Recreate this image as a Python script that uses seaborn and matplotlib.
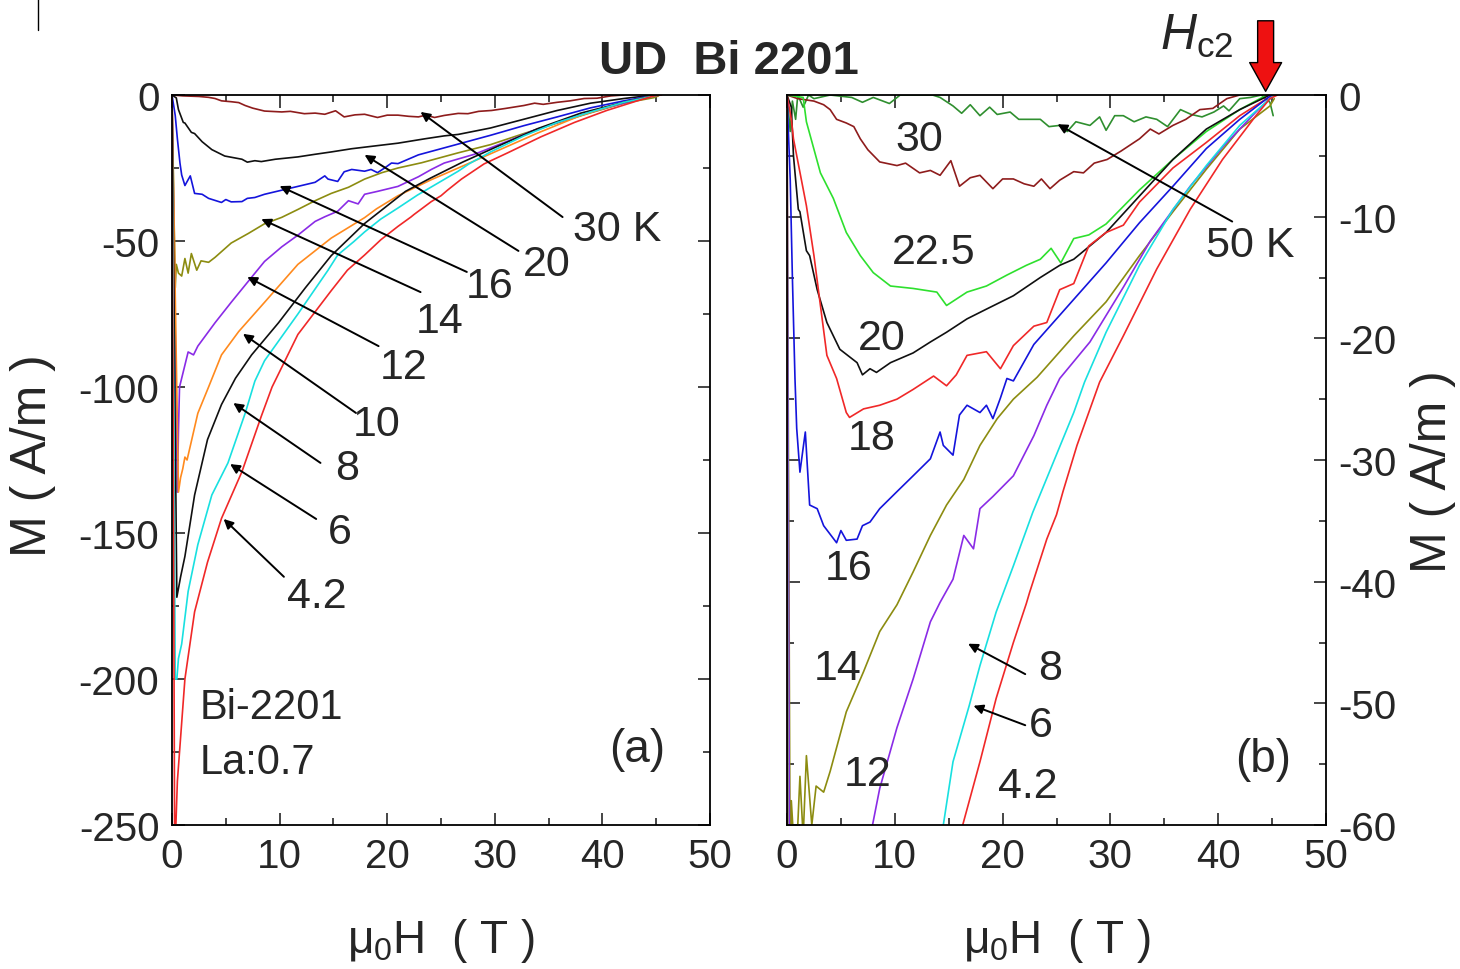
import matplotlib
matplotlib.use("Agg")
import matplotlib.pyplot as plt
from matplotlib.lines import Line2D
from matplotlib.ticker import MultipleLocator
import pandas as pd
import seaborn as sns

# ---------------- data ----------------
H_42 = [0, 0.25, 0.5, 0.8, 1.2, 2.1, 3.3, 4.6, 6.5, 8.3, 9.3, 11.7, 14.8, 16.3, 17.9, 19.4, 21.0, 22.2,
        22.5, 24.1, 25.0, 25.6, 26.9, 29.0, 31.2, 34.3, 37.4, 40.4, 43.5, 44.8, 45.5]
M_42 = [0, -262, -235, -220, -200, -177, -160, -145, -129, -110, -100, -82, -67, -60, -54.8, -49.6, -45.0, -41.8,
        -40.9, -36.5, -34.5, -32.6, -28.8, -23.6, -19.8, -14.3, -9.4, -5.3, -1.7, -0.3, 0]

H_6 = [0, 0.3, 0.45, 0.6, 0.9, 1.5, 2.4, 3.7, 5.2, 6.8, 7.7, 8.6, 11.7, 14.5, 15.4, 16.9, 17.9, 19.4, 21.0,
       22.8, 24.7, 26.6, 27.6, 29.6, 32.7, 35.8, 38.9, 42.0, 44.8, 45.3]
M_6 = [0, -200, -200, -193, -188, -170, -154, -137, -126, -109, -98, -91, -75, -60, -54.8, -50.2, -46.9, -42.5, -38.7,
       -34.3, -30.2, -26.1, -23.6, -19.5, -14.0, -9.4, -5.8, -2.5, -0.3, 0]

H_8 = [0, 0.45, 0.8, 1.2, 2.1, 3.3, 4.6, 5.9, 7.4, 9.9, 12.4, 14.8, 17.9, 21.7, 24.0, 27.0, 30.0, 34.0, 38.0, 42.0, 45.0]
M_8 = [0, -172, -165, -158, -137, -118, -106, -97, -89, -78, -66, -55, -44, -33, -28.5, -23, -18, -11.5, -6.2, -2.5, 0]

H_10 = [0, 0.6, 0.8, 1.0, 1.2, 1.4, 2.4, 3.4, 4.6, 6.2, 8.6, 11.7, 14.8, 17.9, 19.0, 21.0, 24.1, 26.6, 30.0,
        34.0, 38.0, 42.0, 45.0]
M_10 = [0, -136, -131, -128, -124, -125, -109, -100, -89, -81, -71, -58, -49, -42, -39, -34.5, -29, -25, -19.5,
        -13, -7, -2.5, 0]

H_12 = [0, 0.5, 0.6, 0.7, 1.5, 2.0, 2.4, 4.0, 5.5, 7.4, 8.6, 10.2, 11.7, 13.3, 14.2, 15.4, 16.4, 17.3, 17.9,
        19.1, 21.0, 22.9, 24.1, 25.3, 28.1, 31.2, 33.7, 37.4, 40.5, 43.5, 44.8, 45.2]
M_12 = [0, -136, -115, -100, -88, -89, -86, -78, -71, -62.4, -57, -52, -48, -43.3, -41.7, -39.8, -36.2, -37.3, -34,
        -33, -31.3, -28, -25.5, -23.3, -20.3, -15.8, -12, -7.5, -4.2, -1.4, -0.3, 0]

H_14 = [0, 0.3, 0.4, 0.6, 0.9, 1.2, 1.5, 1.8, 2.3, 2.7, 3.4, 4.0, 5.5, 7.1, 8.6, 10.2, 11.7, 13.3, 14.8, 16.4,
        17.9, 19.5, 21.0, 23.2, 26.6, 29.6, 32.7, 35.8, 38.9, 42.0, 44.8, 45.2]
M_14 = [0, -66, -58, -61, -62, -56, -61, -54.3, -60, -56.8, -57.3, -55.6, -50.7, -47.4, -44.1, -41.9, -39.2, -36.2,
        -33.7, -31.6, -28.8, -26.6, -25, -23.2, -19.8, -17, -13.2, -9.6, -6.1, -2.8, -0.9, -0.3]

H_16 = [0, 0.3, 0.5, 0.74, 0.9, 1.2, 1.5, 1.7, 2.1, 2.8, 3.4, 4.6, 5.0, 5.5, 6.5, 7.0, 7.7, 8.6, 10.2, 11.7,
        13.3, 14.2, 14.5, 15.4, 16.0, 16.7, 17.9, 18.5, 19.1, 19.8, 20.4, 21.0, 22.9, 24.7, 26.6, 29.6, 32.7,
        35.8, 38.9, 42.0, 44.8, 45.0]
M_16 = [0, -7, -15, -23.3, -27.4, -31, -29, -27.7, -33.7, -34, -35.4, -36.8, -35.8, -36.6, -36.5, -35.4, -35.1,
        -34, -32.6, -31.3, -29.9, -27.7, -28.8, -29.6, -26.3, -25.5, -26.1, -25.5, -26.6, -24.9, -23.3, -23.5,
        -20.5, -18.7, -16.8, -13.8, -10.5, -7.5, -4.4, -2.0, -0.1, 0]

H_18 = [0, 0.4, 0.6, 1.8, 2.5, 3.1, 3.7, 4.6, 5.5, 5.8, 7.1, 8.6, 10.2, 11.7, 13.6, 14.8, 15.7, 16.7, 18.5,
        19.8, 21.0, 22.9, 24.1, 25.3, 26.6, 28.0, 29.6, 31.2, 32.7, 35.8, 38.9, 42.0, 44.5, 45.0]
M_18 = [0, -2, -3.6, -9.1, -13.2, -17.3, -21.4, -23.3, -26.1, -26.5, -25.8, -25.5, -25, -24.2, -23.1, -23.9, -23,
        -21.4, -21.1, -22.5, -20.6, -19, -18.7, -16, -15.5, -12.4, -11.3, -10.7, -8.8, -6, -3.9, -1.7, -0.3, 0]

H_20 = [0, 0.4, 0.6, 1.05, 1.2, 1.8, 2.1, 2.8, 3.7, 4.9, 6.5, 7.0, 7.7, 8.3, 9.6, 11.7, 13.3, 14.8, 16.7, 18.5,
        21.0, 23.5, 25.3, 26.6, 29.6, 32.7, 35.8, 38.9, 42.0, 44.8]
M_20 = [0, -1, -5, -9.4, -9.6, -12.8, -13.2, -16, -18.7, -20.9, -22, -23, -22.5, -22.8, -22, -21.2, -20.3, -19.5,
        -18.4, -17.6, -16.5, -15, -14, -13.5, -11.3, -8.3, -5.3, -2.8, -1.2, 0]

H_225 = [0, 1.5, 1.8, 3.1, 4.3, 5.5, 6.8, 8.0, 9.6, 11.7, 13.9, 14.8, 16.7, 18.5, 20.4, 22.2, 23.5, 24.5, 25.4,
         26.6, 28.0, 29.6, 32.7, 35.8, 38.9, 42.0, 44.5]
M_225 = [0, -0.2, -2.2, -6.4, -8.5, -11.3, -13.2, -14.6, -15.7, -15.9, -16.2, -17.3, -16.2, -15.7, -14.8, -14,
         -13.5, -12.6, -13.8, -11.8, -11.5, -10.6, -7.8, -5.3, -3.0, -1.2, 0]

H_30 = [0, 1.0, 2.5, 3.4, 4.0, 4.6, 5.5, 6.2, 6.8, 7.5, 8.6, 10.2, 11.0, 12.3, 13.3, 14.2, 15.2, 16.0, 17.0,
        17.9, 19.1, 20.0, 21.0, 22.0, 22.9, 23.6, 24.4, 25.3, 26.6, 27.5, 28.5, 29.7, 31.0, 32.7, 33.7, 34.5,
        35.8, 37.0, 38.3, 39.5, 40.8, 42.0]
M_30 = [0, -0.3, -0.5, -0.8, -1.2, -2.0, -2.3, -2.6, -3.6, -4.5, -5.5, -5.8, -5.6, -6.4, -6.2, -6.6, -5.4, -7.5,
        -6.8, -6.6, -7.7, -6.9, -6.9, -7.3, -7.5, -6.9, -7.7, -7.0, -6.3, -6.4, -5.6, -5.3, -4.6, -3.6, -2.8,
        -3.2, -2.5, -2.0, -1.2, -1.1, -0.3, 0]

H_50 = [0, 0.3, 0.5, 0.8, 1.0, 1.5, 2.0, 2.5, 4.0, 6.0, 7.0, 8.0, 9.5, 10.5, 13.5, 14.2, 15.4, 16.2, 17.0, 17.9,
        18.8, 19.5, 20.7, 21.5, 22.5, 23.5, 24.3, 25.3, 26.0, 26.8, 28.1, 29.0, 29.6, 30.4, 31.2, 32.2, 33.3,
        34.3, 35.3, 36.5, 37.5, 38.5, 39.6, 40.5, 41.0, 42.0, 43.0, 44.0, 44.8, 45.1]
M_50 = [0, -3.0, -0.5, -2.0, 0, -1.0, 0, -0.3, 0, -0.2, -0.6, -0.2, -0.7, 0, 0, -0.2, -0.9, -1.5, -0.8, -1.7,
        -1.0, -1.6, -1.4, -2.0, -2.0, -2.0, -2.6, -2.5, -3.0, -2.2, -2.5, -1.8, -2.9, -1.7, -1.7, -2.2, -1.8,
        -2.0, -2.6, -1.2, -1.6, -1.8, -1.4, -0.9, -1.3, -0.3, -0.2, 0, -0.6, -1.7]

LEFT_TEMPS = ["30", "20", "16", "14", "12", "10", "8", "6", "4.2"]
RIGHT_TEMPS = ["50", "30", "22.5", "20", "18", "16", "14", "12", "6", "4.2"]

COLORS = {"4.2": "#f02828", "6": "#18e0e0", "8": "#101010", "10": "#ff8a1e", "12": "#8a2be6",
          "14": "#8c8c10", "16": "#1414dc", "18": "#f02828", "20": "#101010", "22.5": "#2ee02e",
          "30": "#8e1c1c", "50": "#2f8f2f"}

SERIES = {"4.2": (H_42, M_42), "6": (H_6, M_6), "8": (H_8, M_8), "10": (H_10, M_10), "12": (H_12, M_12),
          "14": (H_14, M_14), "16": (H_16, M_16), "18": (H_18, M_18), "20": (H_20, M_20),
          "22.5": (H_225, M_225), "30": (H_30, M_30), "50": (H_50, M_50)}


def make_df(temps):
    frames = []
    for t in temps:
        h, m = SERIES[t]
        frames.append(pd.DataFrame({"H": h, "M": m, "T": t}))
    return pd.concat(frames, ignore_index=True)


# ---------------- style ----------------
sns.set_theme(style="ticks")
plt.rcParams["font.family"] = ["Liberation Sans", "DejaVu Sans"]
plt.rcParams["mathtext.fontset"] = "custom"
plt.rcParams["mathtext.rm"] = "Liberation Sans"
plt.rcParams["mathtext.it"] = "Liberation Sans:italic"
plt.rcParams["axes.linewidth"] = 1.3
plt.rcParams["axes.unicode_minus"] = False

fig = plt.figure(figsize=(14.6, 9.7), dpi=100)
axL = fig.add_axes([172 / 1460, 1 - 826 / 970, 538 / 1460, 730 / 970])
axR = fig.add_axes([787 / 1460, 1 - 826 / 970, 539 / 1460, 730 / 970])

for ax, temps in ((axL, LEFT_TEMPS), (axR, RIGHT_TEMPS)):
    d = make_df(temps)
    sns.lineplot(data=d, x="H", y="M", hue="T", hue_order=temps,
                 palette={t: COLORS[t] for t in temps}, units="T", estimator=None,
                 sort=False, legend=False, linewidth=1.2, ax=ax)
    ax.set_xlim(0, 50)
    ax.xaxis.set_major_locator(MultipleLocator(10))
    ax.xaxis.set_minor_locator(MultipleLocator(5))
    ax.tick_params(which="both", direction="in", top=True, right=True, left=True, bottom=True,
                   width=1.2, labelsize=29, pad=9)
    ax.tick_params(which="major", length=9)
    ax.tick_params(which="minor", length=5)
    ax.set_xlabel("μ$_\\mathregular{0}$H  ( T )", fontsize=33)
    ax.xaxis.set_label_coords(0.5, -0.125)
    ax.xaxis.label.set_va("top")
    for s in ax.spines.values():
        s.set_color("black")

axL.set_ylim(-250, 0)
axL.yaxis.set_major_locator(MultipleLocator(50))
axL.yaxis.set_minor_locator(MultipleLocator(25))
axL.set_ylabel("M ( A/m )", fontsize=36)
axL.yaxis.set_label_coords(-0.215, 0.508)

axR.set_ylim(-60, 0)
axR.yaxis.set_major_locator(MultipleLocator(10))
axR.yaxis.set_minor_locator(MultipleLocator(5))
axR.tick_params(which="both", labelleft=False, labelright=True)
axR.yaxis.set_label_position("right")
axR.set_ylabel("M ( A/m )", fontsize=36)
axR.yaxis.set_label_coords(1.155, 0.485)

# ---------------- annotations ----------------
ann_kw = dict(arrowprops=dict(arrowstyle="-|>", color="black", lw=1.4, mutation_scale=14,
                              shrinkA=0, shrinkB=0), annotation_clip=False)
fs = 31

left_labels = [  # text, text-centre, arrow tail, arrow tip
    ("30 K", (41.4, -45.9), (36.3, -41.8), (23.1, -5.8)),
    ("20", (34.8, -57.9), (32.2, -53.4), (17.9, -20.5)),
    ("16", (29.5, -65.4), (27.4, -60.6), (10.0, -31.2)),
    ("14", (24.9, -77.4), (23.1, -67.5), (8.3, -42.5)),
    ("12", (21.5, -93.2), (19.2, -86.0), (7.0, -62.3)),
    ("10", (19.0, -112.7), (17.1, -108.9), (6.6, -81.8)),
    ("8", (16.3, -127.7), (13.8, -126.0), (5.7, -105.5)),
    ("6", (15.6, -149.7), (13.4, -145.2), (5.4, -126.4)),
    ("4.2", (13.5, -171.6), (10.4, -165.0), (4.8, -145.2)),
]
for txt, tc, tail, tip in left_labels:
    axL.annotate("", xy=tip, xytext=tail, **ann_kw)
    axL.text(tc[0], tc[1], txt, fontsize=fs, ha="center", va="center")

axL.text(2.6, -209.6, "Bi-2201", fontsize=30, ha="left", va="center")
axL.text(2.6, -228.4, "La:0.7", fontsize=30, ha="left", va="center")
axL.text(43.2, -224.0, "(a)", fontsize=33, ha="center", va="center")

right_plain = [("30", (12.3, -3.6)), ("22.5", (13.6, -12.9)), ("20", (8.8, -20.0)), ("18", (7.9, -28.2)),
               ("16", (5.7, -38.9)), ("14", (4.7, -47.1)), ("12", (7.5, -55.8)), ("4.2", (22.3, -56.8))]
for txt, tc in right_plain:
    axR.text(tc[0], tc[1], txt, fontsize=fs, ha="center", va="center")

right_arrows = [("8", (24.4, -47.1), (22.1, -47.6), (16.8, -45.1)),
                ("6", (23.5, -51.8), (22.1, -51.8), (17.3, -50.2)),
                ("50 K", (43.0, -12.3), (41.3, -10.4), (25.1, -2.4))]
for txt, tc, tail, tip in right_arrows:
    axR.annotate("", xy=tip, xytext=tail, **ann_kw)
    axR.text(tc[0], tc[1], txt, fontsize=fs, ha="center", va="center")

axR.text(44.2, -54.6, "(b)", fontsize=33, ha="center", va="center")

# red Hc2 arrow
axR.annotate("", xy=(44.4, 0.3), xytext=(44.4, 6.1), annotation_clip=False,
             arrowprops=dict(arrowstyle="simple,head_length=0.9,head_width=1.0,tail_width=0.5",
                             mutation_scale=23, facecolor="#ee1111", edgecolor="black", lw=1.0,
                             shrinkA=0, shrinkB=0))
fig.text(1160 / 1460, 1 - 50 / 970, r"$H_{\mathrm{c2}}$", fontsize=36, ha="left", va="baseline")

fig.text(729 / 1460, 1 - 62 / 970, "UD  Bi 2201", fontsize=34, fontweight="bold", ha="center", va="center")
fig.add_artist(Line2D([38 / 1460, 38 / 1460], [1.0, 1 - 31 / 970], transform=fig.transFigure,
                      color="black", lw=1.0))

fig.savefig("out.png", dpi=100)
